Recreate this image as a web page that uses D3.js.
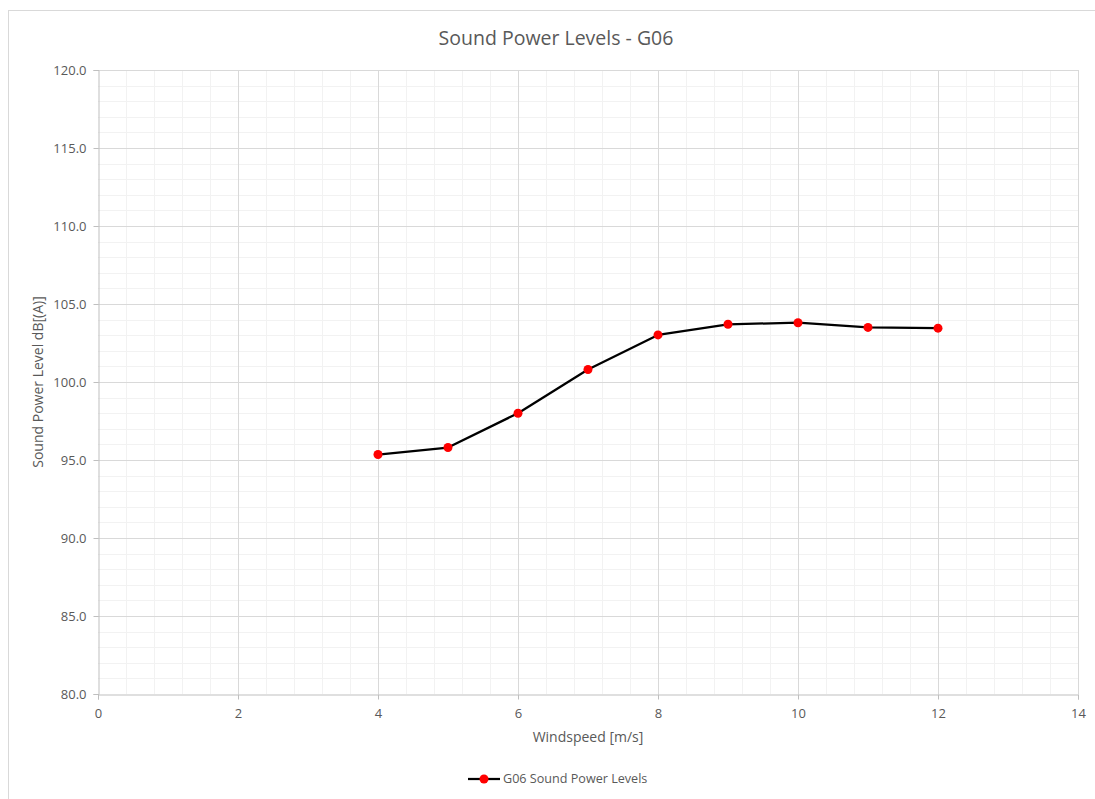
<!DOCTYPE html>
<html>
<head>
<meta charset="utf-8">
<script src="https://cdn.jsdelivr.net/npm/d3@7"></script>
<style>
  html, body { margin: 0; padding: 0; background: #fff; }
  svg { display: block; }
  text { font-family: "Open Sans", "Noto Sans", sans-serif; fill: #595959; }
</style>
</head>
<body>
<svg id="chart" width="1095" height="799"></svg>
<script>
const windspeed = [4, 5, 6, 7, 8, 9, 10, 11, 12];
const soundPower = [95.35, 95.8, 98.0, 100.8, 103.02, 103.7, 103.8, 103.5, 103.45];
const xTicks = [0, 2, 4, 6, 8, 10, 12, 14];
const yTicks = [80, 85, 90, 95, 100, 105, 110, 115, 120];
const title = "Sound Power Levels - G06";
const xTitle = "Windspeed [m/s]";
const yTitle = "Sound Power Level dB[(A)]";
const seriesName = "G06 Sound Power Levels";

const svg = d3.select("#chart");
const plot = { left: 98, right: 1078, top: 70, bottom: 694 };

// outer chart border
svg.append("rect").attr("x", 8.5).attr("y", 10.5).attr("width", 1100).attr("height", 820)
  .attr("fill", "#fff").attr("stroke", "#d9d9d9").attr("stroke-width", 1);

const x = d3.scaleLinear().domain([0, 14]).range([plot.left, plot.right]);
const y = d3.scaleLinear().domain([80, 120]).range([plot.bottom, plot.top]);

const g = svg.append("g");

// minor gridlines
const xMinor = d3.range(0, 14.0001, 0.4).filter(v => Math.abs(v / 2 - Math.round(v / 2)) > 1e-6);
const yMinor = d3.range(80, 120.0001, 1).filter(v => v % 5 !== 0);
g.selectAll(".xminor").data(xMinor).enter().append("line")
  .attr("x1", d => Math.round(x(d)) + 0.5).attr("x2", d => Math.round(x(d)) + 0.5)
  .attr("y1", plot.top).attr("y2", plot.bottom)
  .attr("stroke", "#f2f2f2").attr("stroke-width", 1);
g.selectAll(".yminor").data(yMinor).enter().append("line")
  .attr("y1", d => Math.round(y(d)) + 0.5).attr("y2", d => Math.round(y(d)) + 0.5)
  .attr("x1", plot.left).attr("x2", plot.right)
  .attr("stroke", "#f2f2f2").attr("stroke-width", 1);

// major gridlines
g.selectAll(".xmajor").data(xTicks.slice(1)).enter().append("line")
  .attr("x1", d => Math.round(x(d)) + 0.5).attr("x2", d => Math.round(x(d)) + 0.5)
  .attr("y1", plot.top).attr("y2", plot.bottom)
  .attr("stroke", "#d9d9d9").attr("stroke-width", 1);
g.selectAll(".ymajor").data(yTicks.slice(1)).enter().append("line")
  .attr("y1", d => Math.round(y(d)) + 0.5).attr("y2", d => Math.round(y(d)) + 0.5)
  .attr("x1", plot.left).attr("x2", plot.right)
  .attr("stroke", "#d9d9d9").attr("stroke-width", 1);

// axes
const xAxis = d3.axisBottom(x).tickValues(xTicks).tickFormat(d3.format("d")).tickSize(5).tickPadding(9);
const yAxis = d3.axisLeft(y).tickValues(yTicks).tickFormat(d3.format(".1f")).tickSize(5).tickPadding(7);

const gx = svg.append("g").attr("transform", `translate(0,${plot.bottom + 0.5})`).call(xAxis);
const gy = svg.append("g").attr("transform", `translate(${plot.left + 0.5},0)`).call(yAxis);
[gx, gy].forEach(a => {
  a.select(".domain").attr("stroke", "#bfbfbf");
  a.selectAll(".tick line").attr("stroke", "#bfbfbf");
  a.selectAll(".tick text").attr("fill", "#595959").style("font-size", "13px")
    .style("font-family", '"Open Sans", sans-serif');
});
gy.selectAll(".tick text").attr("dy", "0.35em");

// line
const line = d3.line().x((d, i) => x(windspeed[i])).y(d => y(d));
svg.append("path").datum(soundPower).attr("d", line)
  .attr("fill", "none").attr("stroke", "#000").attr("stroke-width", 2.25)
  .attr("stroke-linejoin", "round");
svg.selectAll(".pt").data(soundPower).enter().append("circle")
  .attr("cx", (d, i) => x(windspeed[i])).attr("cy", d => y(d)).attr("r", 4.5)
  .attr("fill", "#ff0000");

// titles
svg.append("text").attr("x", 556).attr("y", 45).attr("text-anchor", "middle")
  .style("font-size", "19.5px").text(title);
svg.append("text").attr("x", 588).attr("y", 742).attr("text-anchor", "middle")
  .style("font-size", "14px").text(xTitle);
svg.append("text").attr("transform", "translate(43,382) rotate(-90)").attr("text-anchor", "middle")
  .style("font-size", "14px").text(yTitle);

// legend
const lg = svg.append("g").attr("transform", "translate(468,779)");
lg.append("line").attr("x1", 0).attr("x2", 32).attr("y1", 0).attr("y2", 0)
  .attr("stroke", "#000").attr("stroke-width", 2.25);
lg.append("circle").attr("cx", 16).attr("cy", 0).attr("r", 4.5).attr("fill", "#ff0000");
lg.append("text").attr("x", 35).attr("y", 0).attr("dy", "0.35em")
  .style("font-size", "12.6px").text(seriesName);
</script>
</body>
</html>
